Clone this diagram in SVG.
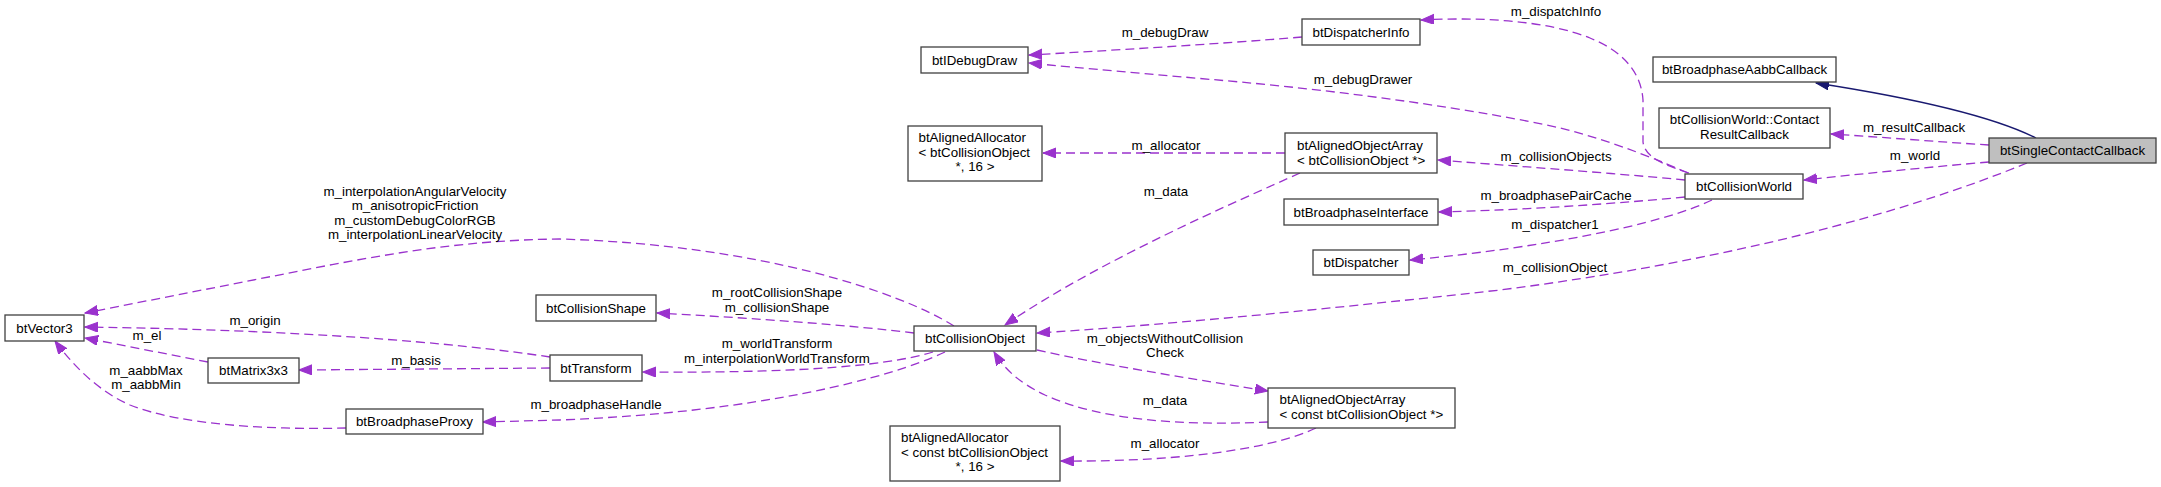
<svg xmlns="http://www.w3.org/2000/svg" width="2161" height="487" viewBox="0 0 2161 487">
<style>
.n rect{fill:#fff;stroke:#404040;stroke-width:1.3}
.n.hl rect{fill:#bfbfbf}
text{font-family:"Liberation Sans",Arial,Helvetica,sans-serif;font-size:13.33px;fill:#000}
.c{text-anchor:middle}
.e{fill:none;stroke:#9a32cd;stroke-width:1.3;stroke-dasharray:9,5}
.inh{fill:none;stroke:#191970;stroke-width:1.3}
</style>
<defs>
<marker id="ap" markerUnits="userSpaceOnUse" markerWidth="14" markerHeight="11" refX="13" refY="5" orient="auto" viewBox="0 0 14 11"><path d="M0,0 L13,5 L0,10 Z" fill="#9a32cd" stroke="#9a32cd"/></marker>
<marker id="ab" markerUnits="userSpaceOnUse" markerWidth="14" markerHeight="11" refX="13" refY="5" orient="auto" viewBox="0 0 14 11"><path d="M0,0 L13,5 L0,10 Z" fill="#191970" stroke="#191970"/></marker>
</defs>
<rect x="0" y="0" width="2161" height="487" fill="#fff"/>
<g id="edges">
<path class="inh" d="M2036,138 C1990,115 1900,96 1816,83" marker-end="url(#ab)"/>
<path class="e" d="M1989,145 C1940,142 1880,137 1831,134" marker-end="url(#ap)"/>
<path class="e" d="M1989,162 C1930,167 1860,174 1804,180" marker-end="url(#ap)"/>
<path class="e" d="M2027,163 C1900,215 1720,262 1500,290 C1300,312 1150,326 1037,333" marker-end="url(#ap)"/>
<path class="e" d="M1689,173 C1665,165 1645,158 1643,142 L1643,100 C1641,70 1620,50 1590,38 C1545,20 1480,17 1421,20" marker-end="url(#ap)"/>
<path class="e" d="M1688,173 C1640,152 1600,138 1560,128 C1480,110 1350,92 1240,82 C1150,74 1080,68 1029,63" marker-end="url(#ap)"/>
<path class="e" d="M1302,37 C1220,44 1100,51 1029,55" marker-end="url(#ap)"/>
<path class="e" d="M1685,180 C1600,172 1500,165 1438,160" marker-end="url(#ap)"/>
<path class="e" d="M1685,197 C1600,205 1520,210 1439,212" marker-end="url(#ap)"/>
<path class="e" d="M1712,200 C1660,225 1540,248 1410,260" marker-end="url(#ap)"/>
<path class="e" d="M1285,153 L1043,153" marker-end="url(#ap)"/>
<path class="e" d="M1300,173 C1240,200 1100,260 1005,325" marker-end="url(#ap)"/>
<path class="e" d="M954,326 C900,292 760,245 560,239 C470,240 400,252 330,265 L85,313" marker-end="url(#ap)"/>
<path class="e" d="M914,333 C850,325 750,318 657,313" marker-end="url(#ap)"/>
<path class="e" d="M933,352 C880,368 780,373 643,372" marker-end="url(#ap)"/>
<path class="e" d="M945,352 C890,378 760,412 560,420 L483,422" marker-end="url(#ap)"/>
<path class="e" d="M550,357 C450,342 300,330 85,327" marker-end="url(#ap)"/>
<path class="e" d="M550,368 L299,370" marker-end="url(#ap)"/>
<path class="e" d="M208,362 L85,338" marker-end="url(#ap)"/>
<path class="e" d="M346,428 C270,430 180,425 130,405 C100,392 75,368 55,341" marker-end="url(#ap)"/>
<path class="e" d="M1268,422 C1180,426 1100,420 1045,395 C1020,383 1005,370 994,352" marker-end="url(#ap)"/>
<path class="e" d="M1037,350 C1100,364 1180,377 1268,391" marker-end="url(#ap)"/>
<path class="e" d="M1316,428 C1280,445 1200,462 1061,461" marker-end="url(#ap)"/>
<text class="c" x="415" y="195.5">m_interpolationAngularVelocity</text>
<text class="c" x="415" y="210">m_anisotropicFriction</text>
<text class="c" x="415" y="224.5">m_customDebugColorRGB</text>
<text class="c" x="415" y="239">m_interpolationLinearVelocity</text>
<text class="c" x="255" y="325">m_origin</text>
<text class="c" x="147" y="339.5">m_el</text>
<text class="c" x="146" y="375">m_aabbMax</text>
<text class="c" x="146" y="389">m_aabbMin</text>
<text class="c" x="416" y="365">m_basis</text>
<text class="c" x="596" y="409">m_broadphaseHandle</text>
<text class="c" x="777" y="297">m_rootCollisionShape</text>
<text class="c" x="777" y="312">m_collisionShape</text>
<text class="c" x="777" y="348">m_worldTransform</text>
<text class="c" x="777" y="363">m_interpolationWorldTransform</text>
<text class="c" x="1165" y="37">m_debugDraw</text>
<text class="c" x="1363" y="83.5">m_debugDrawer</text>
<text class="c" x="1166" y="149.5">m_allocator</text>
<text class="c" x="1166" y="195.5">m_data</text>
<text class="c" x="1556" y="16">m_dispatchInfo</text>
<text class="c" x="1556" y="161">m_collisionObjects</text>
<text class="c" x="1556" y="200">m_broadphasePairCache</text>
<text class="c" x="1555" y="228.5">m_dispatcher1</text>
<text class="c" x="1555" y="272">m_collisionObject</text>
<text class="c" x="1165" y="343">m_objectsWithoutCollision</text>
<text class="c" x="1165" y="357">Check</text>
<text class="c" x="1165" y="405">m_data</text>
<text class="c" x="1165" y="448">m_allocator</text>
<text class="c" x="1914" y="132">m_resultCallback</text>
<text class="c" x="1915" y="160">m_world</text>
</g>
<g id="btSingleContactCallback" class="n hl"><rect x="1989" y="138" width="167" height="25"/><text class="c" x="2072.5" y="155">btSingleContactCallback</text></g>
<g id="btBroadphaseAabbCallback" class="n"><rect x="1653" y="57" width="183" height="25"/><text class="c" x="1744.5" y="74">btBroadphaseAabbCallback</text></g>
<g id="ContactResultCallback" class="n"><rect x="1659" y="108" width="171" height="40"/><text class="c" x="1744.5" y="124">btCollisionWorld::Contact</text><text class="c" x="1744.5" y="139">ResultCallback</text></g>
<g id="btCollisionWorld" class="n"><rect x="1685" y="174" width="118" height="25"/><text class="c" x="1744" y="191">btCollisionWorld</text></g>
<g id="btDispatcherInfo" class="n"><rect x="1302" y="19" width="118" height="26"/><text class="c" x="1361" y="36.5">btDispatcherInfo</text></g>
<g id="btIDebugDraw" class="n"><rect x="921" y="47" width="107" height="26"/><text class="c" x="974.5" y="64.5">btIDebugDraw</text></g>
<g id="btAlignedAllocator1" class="n"><rect x="908" y="126" width="134" height="55"/><text x="918.5" y="142">btAlignedAllocator</text><text x="918.5" y="157">&lt; btCollisionObject</text><text class="c" x="975" y="171">*, 16 &gt;</text></g>
<g id="btAlignedObjectArray1" class="n"><rect x="1285" y="133" width="152" height="40"/><text x="1297" y="149.5">btAlignedObjectArray</text><text x="1297" y="164.5">&lt; btCollisionObject *&gt;</text></g>
<g id="btBroadphaseInterface" class="n"><rect x="1284" y="199" width="154" height="26"/><text class="c" x="1361" y="216.5">btBroadphaseInterface</text></g>
<g id="btDispatcher" class="n"><rect x="1313" y="250" width="96" height="25"/><text class="c" x="1361" y="267">btDispatcher</text></g>
<g id="btCollisionObject" class="n"><rect x="914" y="326" width="122" height="25"/><text class="c" x="975" y="343">btCollisionObject</text></g>
<g id="btCollisionShape" class="n"><rect x="536" y="295" width="120" height="26"/><text class="c" x="596" y="312.5">btCollisionShape</text></g>
<g id="btTransform" class="n"><rect x="550" y="355" width="92" height="26"/><text class="c" x="596" y="372.5">btTransform</text></g>
<g id="btVector3" class="n"><rect x="5" y="315" width="79" height="26"/><text class="c" x="44.5" y="332.5">btVector3</text></g>
<g id="btMatrix3x3" class="n"><rect x="208" y="358" width="91" height="25"/><text class="c" x="253.5" y="375">btMatrix3x3</text></g>
<g id="btBroadphaseProxy" class="n"><rect x="346" y="409" width="137" height="25"/><text class="c" x="414.5" y="426">btBroadphaseProxy</text></g>
<g id="btAlignedObjectArray2" class="n"><rect x="1268" y="388" width="187" height="40"/><text x="1279.5" y="404">btAlignedObjectArray</text><text x="1279.5" y="419">&lt; const btCollisionObject *&gt;</text></g>
<g id="btAlignedAllocator2" class="n"><rect x="890" y="426" width="170" height="55"/><text x="901" y="442">btAlignedAllocator</text><text x="901" y="457">&lt; const btCollisionObject</text><text class="c" x="975" y="471">*, 16 &gt;</text></g>
</svg>
